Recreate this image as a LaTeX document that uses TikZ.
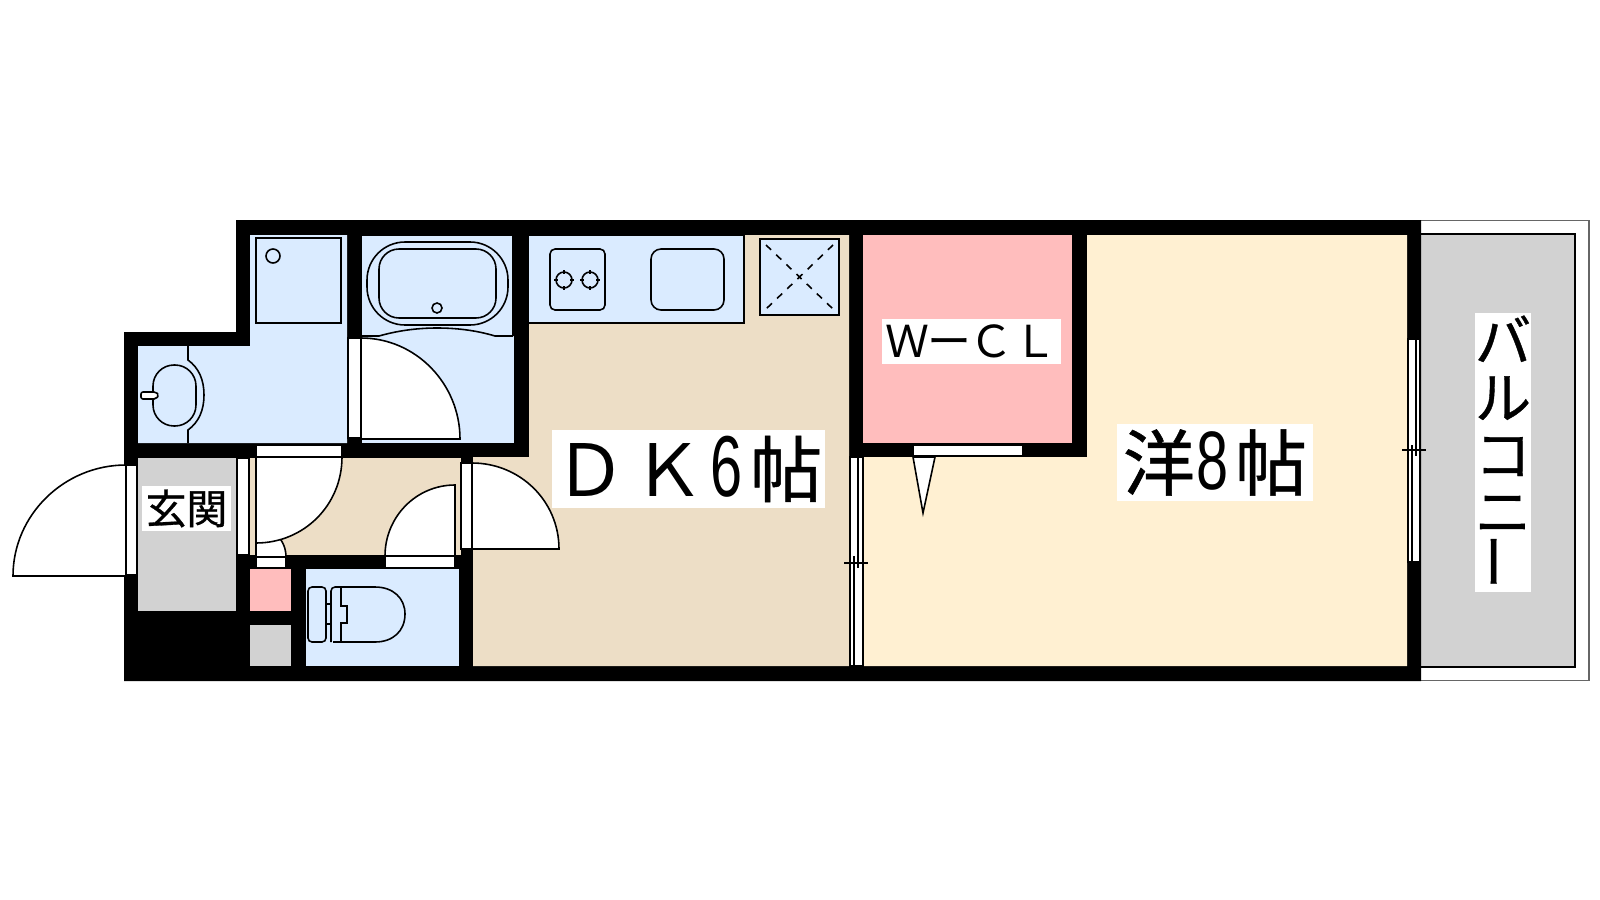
\documentclass[tikz,border=0pt]{standalone}
\usepackage{fontspec}
\setmainfont{Liberation Sans}
\newfontfamily\cjk{Noto Sans CJK JP}
\newfontfamily\cjkheavy[FakeBold=0.7]{Noto Sans CJK JP}
\usetikzlibrary{positioning, calc}
\definecolor{wetblue}{HTML}{DAEBFF}
\definecolor{dkbeige}{HTML}{EDDEC6}
\definecolor{clopink}{HTML}{FFBDBD}
\definecolor{roomcream}{HTML}{FFF0D2}
\definecolor{floorgray}{HTML}{D2D2D2}
\tikzset{
  fixture/.style={draw=black, line width=0.45pt},
  doorleaf/.style={fixture, fill=white},
  roomlabel/.style={fill=white, inner sep=0pt, align=center},
}
\begin{document}
\begin{tikzpicture}[x=0.01cm, y=-0.01cm]
  \useasboundingbox (0,0) rectangle (1600,900);

  % Balcony
  \draw[draw=black!60, line width=0.45pt, fill=white] (1415,220.5) rectangle (1589,680.5);
  \draw[fixture, fill=floorgray] (1415,234) rectangle (1575,667);

  % Walls
  \fill[black] (236,220) -- (1421,220) -- (1421,681) -- (124,681) -- (124,332) -- (236,332) -- cycle;

  % Rooms
  \fill[wetblue] (250,235) -- (347,235) -- (347,443) -- (138,443) -- (138,346) -- (250,346) -- cycle;
  \fill[wetblue] (362,236) rectangle (514,443);
  \fill[wetblue] (306,569) rectangle (459,666);
  \fill[dkbeige] (529,235) -- (849,235) -- (849,666) -- (473,666) -- (473,457) -- (529,457) -- cycle;
  \fill[dkbeige] (249,458) rectangle (461,555);
  \fill[clopink] (863,235) rectangle (1072,443);
  \fill[clopink] (250,569) rectangle (291,611);
  \fill[roomcream] (863,457) -- (1087,457) -- (1087,235) -- (1407,235) -- (1407,666) -- (863,666) -- cycle;
  \fill[floorgray] (138,458) rectangle (236,611);
  \fill[floorgray] (250,625) rectangle (291,666);

  % Washer and basin
  \draw[fixture] (256,238) rectangle (341,323);
  \draw[fixture] (273,256) circle (7);
  \draw[fixture] (188,346) -- (188,360) .. controls (199,368) and (204,380) .. (204,395)
    .. controls (204,410) and (199,422) .. (188,430) -- (188,443);
  \draw[fixture, rounded corners=2.1mm] (153,365) rectangle (196,426);
  \draw[doorleaf, rounded corners=0.2mm] (141,392) -- (156,392) -- (159,395) -- (156,399) -- (141,399) -- cycle;

  % Bath
  \draw[fixture, rounded corners=3.8mm] (367,242) rectangle (508,325);
  \draw[fixture, rounded corners=2mm] (379,249) rectangle (496,318);
  \draw[fixture] (437,308) circle (5);
  \draw[fixture] (362,336) -- (379,336) .. controls (400,330) and (420,328) .. (437,328)
    .. controls (455,328) and (475,330) .. (495,336) -- (513,336);
  \draw[fixture] (513,236) -- (513,336);

  % Kitchen
  \draw[fixture, fill=wetblue] (529,235) -- (744,235) -- (744,323) -- (529,323);
  \draw[fixture, rounded corners=0.5mm] (550,249) rectangle (605,310);
  \foreach \x in {564,590} {
    \draw[fixture] (\x,280) circle (8);
    \draw[fixture] (\x-10,280) -- (\x-6,280) (\x+6,280) -- (\x+10,280)
      (\x,270) -- (\x,274) (\x,286) -- (\x,290);
  }
  \draw[fixture, rounded corners=1mm] (651,249) rectangle (724,310);
  \draw[fixture, fill=wetblue, line width=0.6pt] (760,239) rectangle (839,315);
  \draw[fixture, dash pattern=on 2pt off 2pt] (766,245) -- (833,309) (833,245) -- (766,309);

  % Toilet
  \draw[fixture, rounded corners=0.4mm] (308,587) rectangle (326,642);
  \draw[fixture] (326,604) -- (331,604) (326,624) -- (331,624);
  \draw[fixture, rounded corners=0.4mm] (331,642) -- (331,587) -- (375,587);
  \draw[fixture] (375,587) .. controls (393,587) and (405,598) .. (405,614)
    .. controls (405,631) and (393,642) .. (375,642) -- (333,642);
  \draw[fixture] (341,587) -- (341,606) -- (347,606) -- (347,623) -- (341,623) -- (341,642);

  % Doors
  \draw[doorleaf] (126,465) .. controls (64,465) and (13,515) .. (13,576) -- (126,576) -- cycle;
  \draw[doorleaf] (126,465) rectangle (137,575);
  \draw[doorleaf] (237,458) rectangle (249,555);
  \draw[doorleaf] (256,557) -- (286,557) .. controls (286,540) and (273,527) .. (256,527) -- cycle;
  \draw[doorleaf] (256,557) rectangle (286,568);
  \draw[doorleaf] (256,457) -- (342,457) .. controls (342,505) and (304,543) .. (256,543) -- cycle;
  \draw[doorleaf] (256,445) rectangle (342,457);
  \draw[doorleaf] (361,338) .. controls (416,338) and (460,384) .. (460,439) -- (361,439) -- cycle;
  \draw[doorleaf] (348,338) rectangle (361,438);
  \draw[doorleaf] (385,556) .. controls (385,517) and (416,485) .. (455,485) -- (455,556) -- cycle;
  \draw[doorleaf] (385,556) rectangle (455,568);
  \draw[doorleaf] (472,463) .. controls (520,463) and (559,501) .. (559,549) -- (472,549) -- cycle;
  \draw[doorleaf] (461,463) rectangle (472,549);
  \draw[doorleaf] (913,445) rectangle (1023,456);
  \draw[doorleaf] (913,457) -- (935,457) -- (923,513) -- cycle;

  % Sliding doors
  \draw[doorleaf] (850,457) rectangle (863,666);
  \draw[fixture] (858,457) -- (858,568) (854,556) -- (854,666) (844,563) -- (868,563);
  \draw[doorleaf] (1408,339) rectangle (1420,562);
  \draw[fixture] (1416,339) -- (1416,456) (1412,445) -- (1412,562) (1402,450) -- (1426,450);

  % Labels
  \node[roomlabel, minimum width=8.9mm, minimum height=4.5mm, font=\cjkheavy\fontsize{11.6}{11.6}\selectfont] (genkan) at (186.5,508.5)
    {玄関};
  \node[roomlabel, minimum width=27.3mm, minimum height=7.8mm, font=\fontsize{20.5}{20.5}\selectfont] (dkroom) at (688.5,469)
    {{\cjk Ｄ}\hspace{0.6mm}{\cjk Ｋ}\hspace{0.5mm}\scalebox{0.8}[1.2]{6}\hspace{0.8mm}{\cjkheavy 帖}};
  \node[roomlabel, minimum width=19.6mm, minimum height=7.7mm, font=\fontsize{20.5}{20.5}\selectfont] (yoroom) at (1215,462.5)
    {{\cjkheavy 洋}\hspace{0.2mm}\scalebox{0.8}[1.15]{8}\hspace{0.6mm}{\cjkheavy 帖}};
  \node[roomlabel, minimum width=17.9mm, minimum height=4.5mm, font=\cjk\fontsize{12.5}{12.5}\selectfont] (wcl) at (971.5,341.5)
    {Ｗ\hspace{-0.2mm}ー\hspace{-0.2mm}ＣＬ};
  \node[roomlabel, minimum width=5.6mm, minimum height=27.9mm, font=\cjkheavy\fontsize{16}{16.2}\selectfont] (balcony) at (1503,452.5)
    {バ\\ル\\コ\\ニ\\\rotatebox{90}{ー}};
\end{tikzpicture}
\end{document}
